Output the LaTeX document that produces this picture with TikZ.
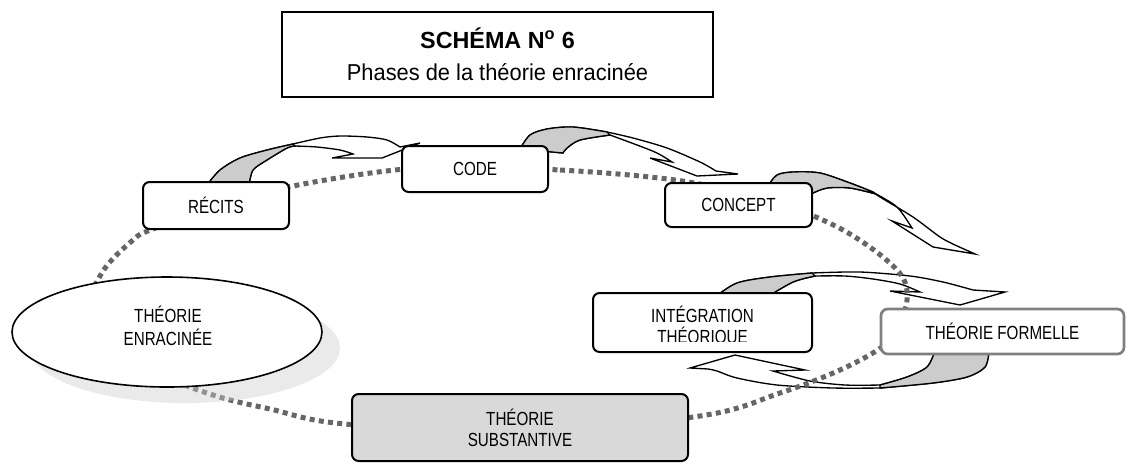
\documentclass[tikz,border=0pt]{standalone}
\usepackage{fontspec}
\setmainfont{Liberation Sans}
\newfontfamily\labfont[FakeStretch=0.8]{Liberation Sans}
\newfontfamily\ttlfont[FakeStretch=0.95]{Liberation Sans}
\usetikzlibrary{shapes.geometric}
\definecolor{loopgray}{RGB}{102,102,102}
\definecolor{bandgray}{RGB}{204,204,204}
\definecolor{boxgray}{RGB}{217,217,217}
\definecolor{framegray}{RGB}{128,128,128}
\definecolor{shadegray}{RGB}{205,205,205}
\tikzset{
  stagebox/.style={draw=black, line width=1.5pt, rounded corners=5pt, fill=white,
    inner sep=0pt, align=center, font=\labfont\fontsize{14.25}{15.75}\selectfont},
  labtext/.style={inner sep=0pt, align=center, font=\labfont\fontsize{14.25}{15.75}\selectfont},
  band/.style={draw=black, line width=1pt, fill=white, line join=miter},
  bandtail/.style={draw=black, line width=1pt, fill=bandgray},
  loopline/.style={draw=loopgray, line width=3.75pt, dash pattern=on 3.75pt off 3.2pt},
}
\begin{document}
\begin{tikzpicture}[x=0.75pt,y=-0.75pt]
\useasboundingbox (0,0) rectangle (1127,462);

% title
\node[draw, line width=1.1pt, minimum width=323.25pt, minimum height=63.75pt, inner sep=0pt] (titlebox) at (497.5,54.5) {};
\node[anchor=base, font=\bfseries\fontsize{17.5}{20}\selectfont] (titleA) at (497.5,48) {SCHÉMA N\textsuperscript{o} 6};
\node[anchor=base, font=\ttlfont\fontsize{17.25}{20}\selectfont] (titleB) at (497.5,80) {Phases de la théorie enracinée};

% curved arrow: récits -> code
\path[band] plot[smooth] coordinates {(207,185) (220,170) (240,158) (267,150) (293,144)}
  -- plot[smooth] coordinates {(293,144) (320,138) (340,136) (367,137) (387,140) (400,147)}
  -- (420,143) -- (382,158) -- (332,158) -- (353,154)
  -- plot[smooth] coordinates {(353,154) (340,150) (317,147) (295,146)}
  -- plot[smooth] coordinates {(295,146) (287,148) (267,160) (253,170) (249,185)} -- cycle;
\path[bandtail] plot[smooth] coordinates {(207,185) (220,170) (240,158) (267,150) (293,144)}
  -- plot[smooth] coordinates {(295,146) (287,148) (267,160) (253,170) (249,185)} -- cycle;

% curved arrow: code -> concept
\path[band] plot[smooth] coordinates {(520,149) (530,135) (547,129) (573,127) (607,132)}
  -- plot[smooth] coordinates {(607,132) (633,138) (667,148) (700,162) (716,171)}
  -- (738,174) -- (697,176) -- (650,158) -- (672,162)
  -- plot[smooth] coordinates {(672,162) (657,153) (637,145) (610,135)}
  -- plot[smooth] coordinates {(610,135) (580,140) (567,148) (563,153)} -- cycle;
\path[bandtail] plot[smooth] coordinates {(520,149) (530,135) (547,129) (573,127) (607,132)}
  -- plot[smooth] coordinates {(610,135) (580,140) (567,148) (563,153)} -- cycle;

% curved arrow: concept -> down right
\path[band] plot[smooth] coordinates {(768,186) (777,175) (793,172) (820,173) (850,183) (873,192)}
  -- plot[smooth] coordinates {(873,192) (880,197) (913,217) (940,237) (955,245)}
  -- (975,254) -- (933,247) -- (892,221) -- (912,228)
  -- plot[smooth] coordinates {(912,228) (897,207) (876,194)}
  -- plot[smooth] coordinates {(876,194) (850,188) (827,188) (813,193)} -- cycle;
\path[bandtail] plot[smooth] coordinates {(768,186) (777,175) (793,172) (820,173) (850,183) (873,192)}
  -- plot[smooth] coordinates {(876,194) (850,188) (827,188) (813,193)} -- cycle;

% curved arrow: intégration -> formelle (upper)
\path[band] plot[smooth] coordinates {(715,297) (737,283) (770,277) (812,273)}
  -- plot[smooth] coordinates {(812,273) (860,272) (910,276) (943,282) (973,290)}
  -- (1005,292) -- (960,305) -- (890,291) -- (920,292)
  -- plot[smooth] coordinates {(920,292) (900,284) (873,279) (845,276) (815,276)}
  -- plot[smooth] coordinates {(815,276) (793,282) (767,297)} -- cycle;
\path[bandtail] plot[smooth] coordinates {(715,297) (737,283) (770,277) (812,273)}
  -- plot[smooth] coordinates {(815,276) (793,282) (767,297)} -- cycle;

% curved arrow: formelle -> intégration (lower)
\path[band] plot[smooth] coordinates {(989,351) (985,367) (967,377) (933,383) (880,388)}
  -- plot[smooth] coordinates {(880,388) (833,388) (777,385) (737,378) (717,371) (708,369)}
  -- (690,368) -- (735,355) -- (805,370) -- (773,371)
  -- plot[smooth] coordinates {(773,371) (810,381) (845,385) (880,385)}
  -- plot[smooth] coordinates {(880,385) (907,377) (927,367) (935,351)} -- cycle;
\path[bandtail] plot[smooth] coordinates {(989,351) (985,367) (967,377) (933,383) (880,388)}
  -- plot[smooth] coordinates {(880,385) (907,377) (927,367) (935,351)} -- cycle;

% dotted cycle of phases
\draw[loopline] plot[smooth cycle, tension=0.6] coordinates {
  (475,167) (560,170) (640,176) (700,184) (770,200) (843,230) (897,270) (907,300)
  (895,330) (882,347) (840,370) (780,393) (700,416) (520,432) (345,424) (270,409)
  (213,395) (150,370) (85,330) (100,276) (133,240) (153,229) (220,205) (293,186) (395,170)};

% grounded theory ellipse with its shadow
\node[ellipse, fill=shadegray, opacity=0.42, minimum width=232.5pt, minimum height=82.5pt, inner sep=0pt] (enrshadow) at (185,348) {};
\node[ellipse, draw=black, line width=1.2pt, fill=white, minimum width=232.5pt, minimum height=82.5pt, inner sep=0pt] (enr) at (167,332) {};
\node[labtext, font=\labfont\fontsize{14.25}{17.25}\selectfont] (enrtxt) at (168,326) {THÉORIE\\ENRACINÉE};

% phase boxes
\node[stagebox, minimum width=109.5pt, minimum height=35.25pt] (recits) at (216,205.5) {RÉCITS};
\node[stagebox, minimum width=109.5pt, minimum height=34.5pt] (code) at (475,169) {CODE};
\node[stagebox, minimum width=110.25pt, minimum height=33pt] (concept) at (738.5,205) {CONCEPT};
\node[stagebox, draw=framegray, line width=2pt, minimum width=182.25pt, minimum height=33.75pt] (formelle) at (1002.5,331.5) {THÉORIE FORMELLE};
\node[stagebox, minimum width=164.25pt, minimum height=44.25pt] (integ) at (702.5,322.5) {};
\begin{scope}
  \clip (593,293) rectangle (812,341);
  \node[labtext, anchor=base] (integA) at (702.5,322) {INTÉGRATION};
  \node[labtext, anchor=base] (integB) at (702.5,343) {THÉORIQUE};
\end{scope}
\node[stagebox, fill=boxgray, minimum width=252pt, minimum height=50.25pt] (subst) at (520,427.5) {THÉORIE\\SUBSTANTIVE};
\end{tikzpicture}
\end{document}
